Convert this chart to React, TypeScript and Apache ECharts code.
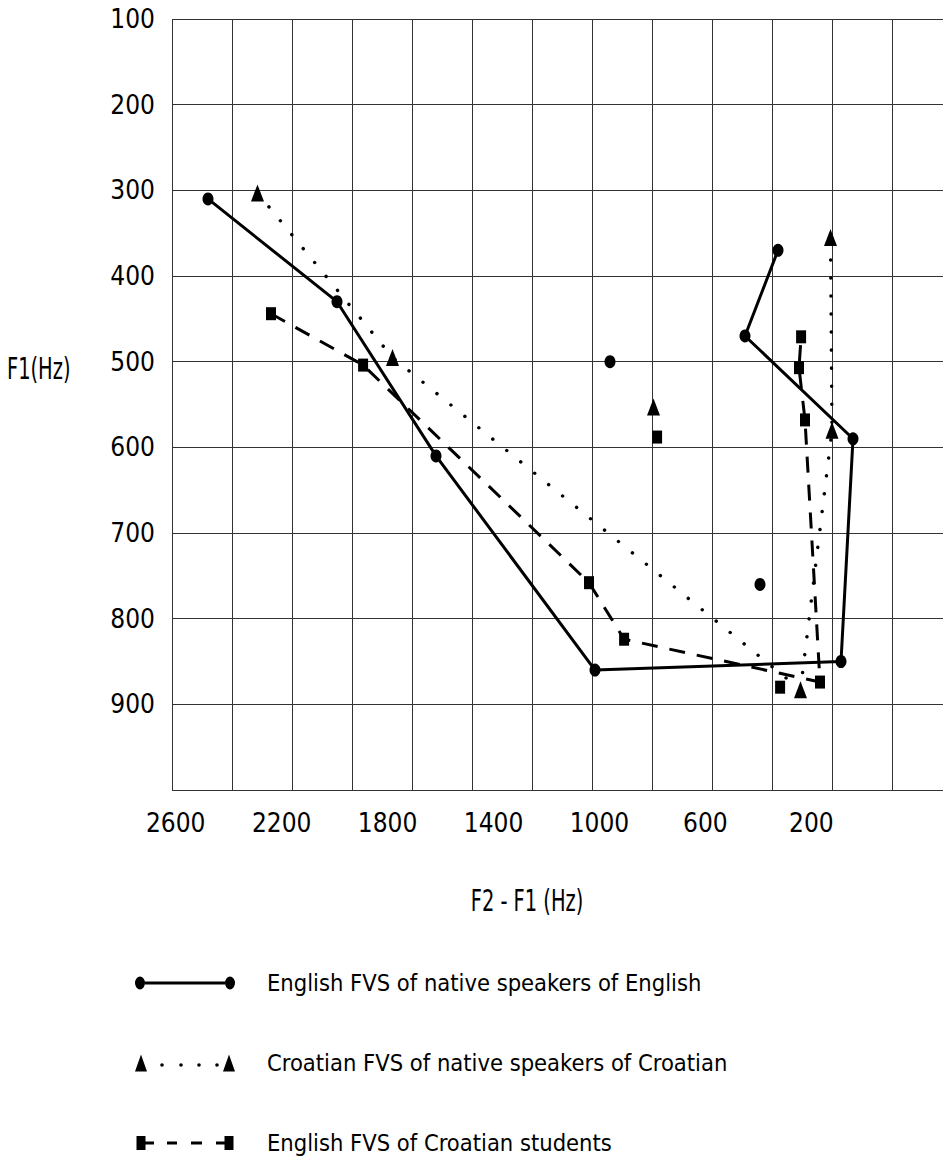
import React, { useEffect, useRef } from "react";
import * as echarts from "echarts";

const FONT = "'Liberation Sans Narrow', 'DejaVu Sans Condensed', 'Liberation Sans', sans-serif";

const seriesNames = [
  "English FVS of native speakers of English",
  "Croatian FVS of native speakers of Croatian",
  "English FVS of Croatian students",
];

// points are [F2 - F1 (Hz), F1 (Hz)]
const englishNative = [
  [2480, 310], [2050, 430], [1720, 610], [1190, 860],
  [370, 850], [330, 590], [690, 470], [580, 370],
];
const englishNativeSingles = [[1140, 500], [640, 760]];

const croatianNative = [[2315, 303], [1865, 495], [505, 883], [400, 580], [405, 355]];
const croatianNativeSingles = [[995, 553]];

const croatianStudents = [
  [2270, 444], [1963, 504], [1210, 758], [1093, 824],
  [440, 874], [490, 568], [510, 507], [503, 471],
];
const croatianStudentsSingles = [[983, 588], [573, 880]];

const xTickLabels = [2600, 2200, 1800, 1400, 1000, 600, 200];
const yTickLabels = [100, 200, 300, 400, 500, 600, 700, 800, 900];

const withSingles = (main: number[][], singles: number[][]) => {
  const out: any[] = main.map((p) => [p[0], p[1]]);
  singles.forEach((p) => {
    out.push([p[0], "-"]);
    out.push([p[0], p[1]]);
  });
  return out;
};

const legendIcons = [
  "path://M0 0Z M100 17Z M0 8.5 A5 6.5 0 1 0 10 8.5 A5 6.5 0 1 0 0 8.5 Z M90 8.5 A5 6.5 0 1 0 100 8.5 A5 6.5 0 1 0 90 8.5 Z M10 7 L90 7 L90 10 L10 10 Z",
  "path://M6 0 L12 17 L0 17 Z M94 0 L100 17 L88 17 Z M25.2 10.5 a1.8 1.8 0 1 0 3.6 0 a1.8 1.8 0 1 0 -3.6 0 Z M44.2 10.5 a1.8 1.8 0 1 0 3.6 0 a1.8 1.8 0 1 0 -3.6 0 Z M62.2 10.5 a1.8 1.8 0 1 0 3.6 0 a1.8 1.8 0 1 0 -3.6 0 Z M80.2 10.5 a1.8 1.8 0 1 0 3.6 0 a1.8 1.8 0 1 0 -3.6 0 Z",
  "path://M0 0Z M100 17Z M1.5 1.5 L10.5 1.5 L10.5 15.5 L1.5 15.5 Z M10.5 7 L19 7 L19 10 L10.5 10 Z M32 7 L42 7 L42 10 L32 10 Z M56 7 L67 7 L67 10 L56 10 Z M81 7 L89.5 7 L89.5 10 L81 10 Z M89.5 1.5 L98.5 1.5 L98.5 15.5 L89.5 15.5 Z",
];

const GRID_COLOR = "#333";

export default function App() {
  const ref = useRef<HTMLDivElement>(null);

  useEffect(() => {
    if (!ref.current) return;
    const chart = echarts.init(ref.current, undefined, { renderer: "svg" });
    const option: any = {
      animation: false,
      backgroundColor: "#fff",
      grid: { left: 172, top: 19, width: 780, height: 771, containLabel: false },
      xAxis: [
        {
          type: "value",
          inverse: true,
          min: 0,
          max: 2600,
          interval: 200,
          axisLine: { show: false },
          axisTick: { show: false },
          axisLabel: { show: false },
          splitLine: { show: true, lineStyle: { color: GRID_COLOR, width: 1 } },
        },
        {
          type: "value",
          inverse: true,
          position: "bottom",
          min: -331,
          max: 2614,
          axisLine: { show: false },
          axisTick: { show: false },
          splitLine: { show: false },
          axisLabel: {
            customValues: xTickLabels,
            margin: 20,
            fontSize: 26,
            fontFamily: FONT,
            color: "#000",
            formatter: (v: number) => String(v),
          },
        },
      ],
      yAxis: {
        type: "value",
        inverse: true,
        min: 100,
        max: 1000,
        interval: 100,
        axisLine: { show: false },
        axisTick: { show: false },
        axisLabel: {
          margin: 17,
          fontSize: 26,
          fontFamily: FONT,
          color: "#000",
          formatter: (v: number) => (yTickLabels.indexOf(v) >= 0 ? String(v) : ""),
        },
        splitLine: { show: true, lineStyle: { color: GRID_COLOR, width: 1 } },
      },
      legend: {
        orient: "vertical",
        left: 130,
        top: 966,
        itemWidth: 100,
        itemHeight: 17,
        itemGap: 56,
        selectedMode: false,
        itemStyle: { borderWidth: 0 },
        textStyle: { fontSize: 23.5, fontFamily: FONT, color: "#000", padding: [0, 0, 0, 27] },
        data: seriesNames.map((name, i) => ({ name, icon: legendIcons[i] })),
      },
      graphic: [
        {
          type: "text",
          x: 7,
          y: 369,
          scaleX: 0.72,
          style: { text: "F1(Hz)", font: `30px ${FONT}`, fill: "#000", align: "left", verticalAlign: "middle" },
        },
        {
          type: "text",
          x: 527,
          y: 901,
          scaleX: 0.72,
          style: { text: "F2 - F1 (Hz)", font: `30px ${FONT}`, fill: "#000", align: "center", verticalAlign: "middle" },
        },
      ],
      series: [
        {
          name: seriesNames[0],
          type: "line",
          xAxisIndex: 0,
          data: withSingles(englishNative, englishNativeSingles),
          symbol: "circle",
          symbolSize: [11, 13],
          connectNulls: false,
          lineStyle: { color: "#000", width: 3, type: "solid" },
          itemStyle: { color: "#000" },
          z: 3,
        },
        {
          name: seriesNames[1],
          type: "line",
          xAxisIndex: 0,
          data: withSingles(croatianNative, croatianNativeSingles),
          symbol: "triangle",
          symbolSize: [13, 17],
          connectNulls: false,
          lineStyle: { color: "#000", width: 3.5, type: [0.01, 18], cap: "round" },
          itemStyle: { color: "#000" },
          z: 2,
        },
        {
          name: seriesNames[2],
          type: "line",
          xAxisIndex: 0,
          data: withSingles(croatianStudents, croatianStudentsSingles),
          symbol: "rect",
          symbolSize: [10, 13],
          connectNulls: false,
          lineStyle: { color: "#000", width: 3, type: [16, 12] },
          itemStyle: { color: "#000" },
          z: 2,
        },
      ],
    };
    chart.setOption(option);
    return () => chart.dispose();
  }, []);

  return (
    <div
      style={{
        position: "absolute",
        left: 0,
        top: 0,
        width: 943,
        height: 1162,
        overflow: "hidden",
        background: "#fff",
      }}
    >
      <div ref={ref} style={{ width: 1000, height: 1240 }} />
    </div>
  );
}
